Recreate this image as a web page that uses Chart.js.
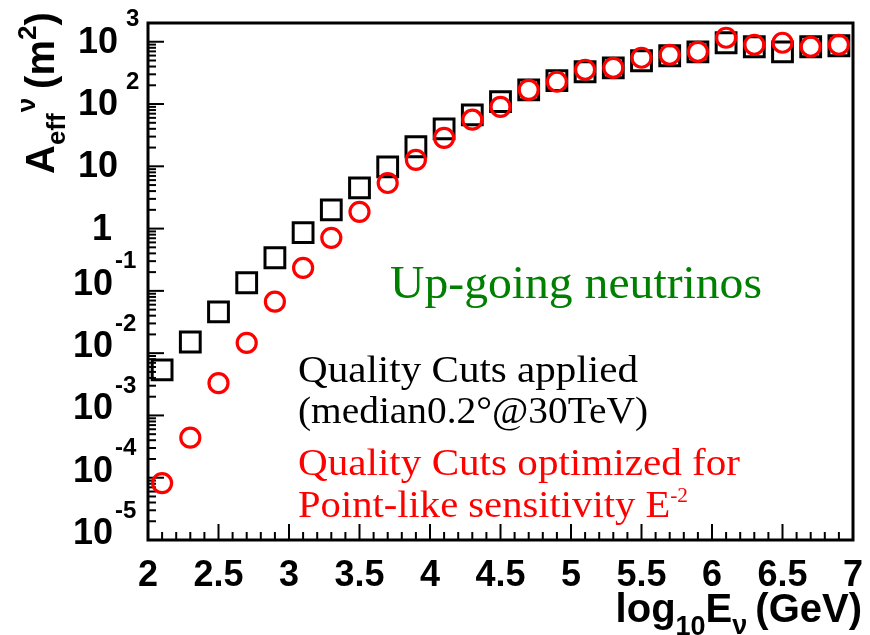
<!DOCTYPE html>
<html>
<head>
<meta charset="utf-8">
<script src="https://cdn.jsdelivr.net/npm/chart.js@4.4.0/dist/chart.umd.min.js"></script>
<style>
  html, body { margin: 0; padding: 0; background: #fff; }
  #wrap { width: 870px; height: 635px; position: relative; }
</style>
</head>
<body>
<div id="wrap"><canvas id="chart-aeff"></canvas></div>
<script>
// log10(E/GeV) bin centres
const energies = [2.1, 2.3, 2.5, 2.7, 2.9, 3.1, 3.3, 3.5, 3.7, 3.9, 4.1, 4.3, 4.5, 4.7, 4.9, 5.1, 5.3, 5.5, 5.7, 5.9, 6.1, 6.3, 6.5, 6.7, 6.9];
// effective area (m^2), black squares: quality cuts applied
const qualityCuts = [0.0054, 0.0151, 0.046, 0.135, 0.34, 0.86, 2.0, 4.5, 9.8, 20.6, 40, 67, 109, 169, 237, 330, 382, 495, 596, 690, 963, 831, 690, 831, 862];
// effective area (m^2), red circles: cuts optimized for point-like sensitivity
const pointLikeCuts = [8.2e-5, 4.4e-4, 3.3e-3, 0.0146, 0.067, 0.234, 0.71, 1.86, 5.4, 12.7, 28.7, 56, 90, 169, 228, 355, 382, 553, 618, 690, 1160, 895, 963, 831, 895];
const xTicks = [2, 2.5, 3, 3.5, 4, 4.5, 5, 5.5, 6, 6.5, 7];
const yExponents = [-5, -4, -3, -2, -1, 0, 1, 2, 3];

const BOLD = "'Liberation Sans', Arial, sans-serif";
const SERIF = "'Liberation Serif', 'DejaVu Serif', serif";

function fontOf(r) { return `${r.weight || 'bold'} ${r.size}px ${r.family || BOLD}`; }

// draw a row of text runs (size, vertical shift) starting at x
function drawRuns(ctx, runs, x, y) {
    let cx = x;
    runs.forEach(r => {
        ctx.font = fontOf(r);
        ctx.fillText(r.t, cx, y + (r.dy || 0));
        cx += ctx.measureText(r.t).width + (r.gap || 0);
    });
    return cx - x;
}
function runsWidth(ctx, runs) {
    let w = 0;
    runs.forEach(r => {
        ctx.font = fontOf(r);
        w += ctx.measureText(r.t).width + (r.gap || 0);
    });
    return w;
}
// serif text stretched to the width it has in the original figure
function fitRuns(ctx, runs, x, y, width) {
    const w = runsWidth(ctx, runs);
    ctx.save();
    ctx.translate(x, y);
    ctx.scale(width / w, 1);
    drawRuns(ctx, runs, 0, 0);
    ctx.restore();
}

const rootFrame = {
    id: 'rootFrame',
    beforeDatasetsDraw(chart) {
        const { ctx, chartArea: a, scales: { x, y } } = chart;
        ctx.save();
        ctx.strokeStyle = '#000';
        ctx.lineWidth = 2;
        // y ticks (inside, left side)
        yExponents.forEach(e => {
            const py = y.getPixelForValue(Math.pow(10, e));
            ctx.beginPath(); ctx.moveTo(a.left, py); ctx.lineTo(a.left + 16, py); ctx.stroke();
            for (let m = 2; m <= 9; m++) {
                const v = m * Math.pow(10, e);
                if (v > y.max) break;
                const pm = y.getPixelForValue(v);
                ctx.beginPath(); ctx.moveTo(a.left, pm); ctx.lineTo(a.left + 8, pm); ctx.stroke();
            }
        });
        // x ticks (inside, bottom)
        for (let k = 0; k <= 50; k++) {
            const px = x.getPixelForValue(2 + k * 0.1);
            const len = k % 5 === 0 ? 16 : 8;
            ctx.beginPath(); ctx.moveTo(px, a.bottom); ctx.lineTo(px, a.bottom - len); ctx.stroke();
        }
        // frame
        ctx.lineWidth = 3;
        ctx.strokeRect(a.left, a.top, a.right - a.left, a.bottom - a.top);
        ctx.restore();
    },
    afterDraw(chart) {
        const { ctx, chartArea: a, scales: { x, y } } = chart;
        ctx.save();
        ctx.fillStyle = '#000';

        // y tick labels
        yExponents.forEach(e => {
            const py = y.getPixelForValue(Math.pow(10, e));
            ctx.textBaseline = 'middle';
            ctx.font = `bold 36px ${BOLD}`;
            ctx.textAlign = 'right';
            if (e === 0) {
                ctx.fillText('1', 112, py + 1);
            } else if (e === 1) {
                ctx.fillText('10', 118, py + 1);
            } else {
                const right10 = e > 0 ? 118 : 113;
                const cy = e > 0 ? py + 1 : py - 6;
                ctx.fillText('10', right10, cy);
                ctx.font = `bold 24px ${BOLD}`;
                ctx.textAlign = 'left';
                ctx.fillText(e < 0 ? '-' + Math.abs(e) : String(e), e > 0 ? right10 + 8 : right10 + 2, cy - 23);
            }
        });

        // x tick labels
        ctx.textAlign = 'center';
        ctx.textBaseline = 'alphabetic';
        ctx.font = `bold 36px ${BOLD}`;
        xTicks.forEach(v => {
            ctx.fillText(String(v), x.getPixelForValue(v), 586);
        });

        // x title: log10 E_nu (GeV)
        ctx.textAlign = 'left';
        const xt = [
            { t: 'log', size: 40 },
            { t: '10', size: 27, dy: 13 },
            { t: 'E', size: 40 },
            { t: 'ν', size: 27, dy: 12, gap: 8 },
            { t: '(GeV)', size: 40 }
        ];
        drawRuns(ctx, xt, 862 - runsWidth(ctx, xt), 622);

        // y title: A_eff^nu (m^2), rotated
        ctx.save();
        ctx.translate(54, 174);
        ctx.rotate(-Math.PI / 2);
        drawRuns(ctx, [
            { t: 'A', size: 40 },
            { t: 'eff', size: 26, dy: 11, gap: 1 },
            { t: 'ν', size: 26, dy: -19, gap: 9 },
            { t: '(m', size: 40 },
            { t: '2', size: 26, dy: -18 },
            { t: ')', size: 40 }
        ], 0, 0);
        ctx.restore();

        // annotations
        ctx.fillStyle = '#008000';
        fitRuns(ctx, [{ t: 'Up-going neutrinos', size: 46, weight: 'normal', family: SERIF }], 390, 298, 372);

        ctx.fillStyle = '#000';
        fitRuns(ctx, [{ t: 'Quality Cuts applied', size: 38, weight: 'normal', family: SERIF }], 298, 382, 340);
        fitRuns(ctx, [{ t: '(median0.2°@30TeV)', size: 38, weight: 'normal', family: SERIF }], 298, 423, 350);

        ctx.fillStyle = '#ff0000';
        fitRuns(ctx, [{ t: 'Quality Cuts optimized for', size: 38, weight: 'normal', family: SERIF }], 298, 475, 442);
        fitRuns(ctx, [
            { t: 'Point-like sensitivity E', size: 38, weight: 'normal', family: SERIF },
            { t: '-2', size: 20, weight: 'normal', family: SERIF, dy: -15 }
        ], 298, 517, 390);
        ctx.restore();
    }
};

const ctx = document.getElementById('chart-aeff');
new Chart(ctx, {
    type: 'scatter',
    data: {
        datasets: [
            {
                label: 'Quality Cuts optimized for Point-like sensitivity',
                data: energies.map((e, i) => ({ x: e, y: pointLikeCuts[i] })),
                pointStyle: 'circle',
                pointRadius: 9.5,
                borderColor: '#ff0000',
                backgroundColor: 'rgba(0,0,0,0)',
                borderWidth: 3.2,
                order: 1
            },
            {
                label: 'Quality Cuts applied',
                data: energies.map((e, i) => ({ x: e, y: qualityCuts[i] })),
                pointStyle: 'rect',
                pointRadius: 14,
                borderColor: '#000',
                backgroundColor: 'rgba(0,0,0,0)',
                borderWidth: 3,
                order: 2
            }
        ]
    },
    options: {
        responsive: true,
        maintainAspectRatio: false,
        animation: false,
        layout: { padding: { left: 148, top: 23, right: 9, bottom: 95 } },
        plugins: { legend: { display: false }, tooltip: { enabled: false } },
        scales: {
            x: { type: 'linear', min: 2, max: 7, display: false },
            y: { type: 'logarithmic', min: 1e-5, max: 2000, display: false }
        }
    },
    plugins: [rootFrame]
});
</script>
</body>
</html>
